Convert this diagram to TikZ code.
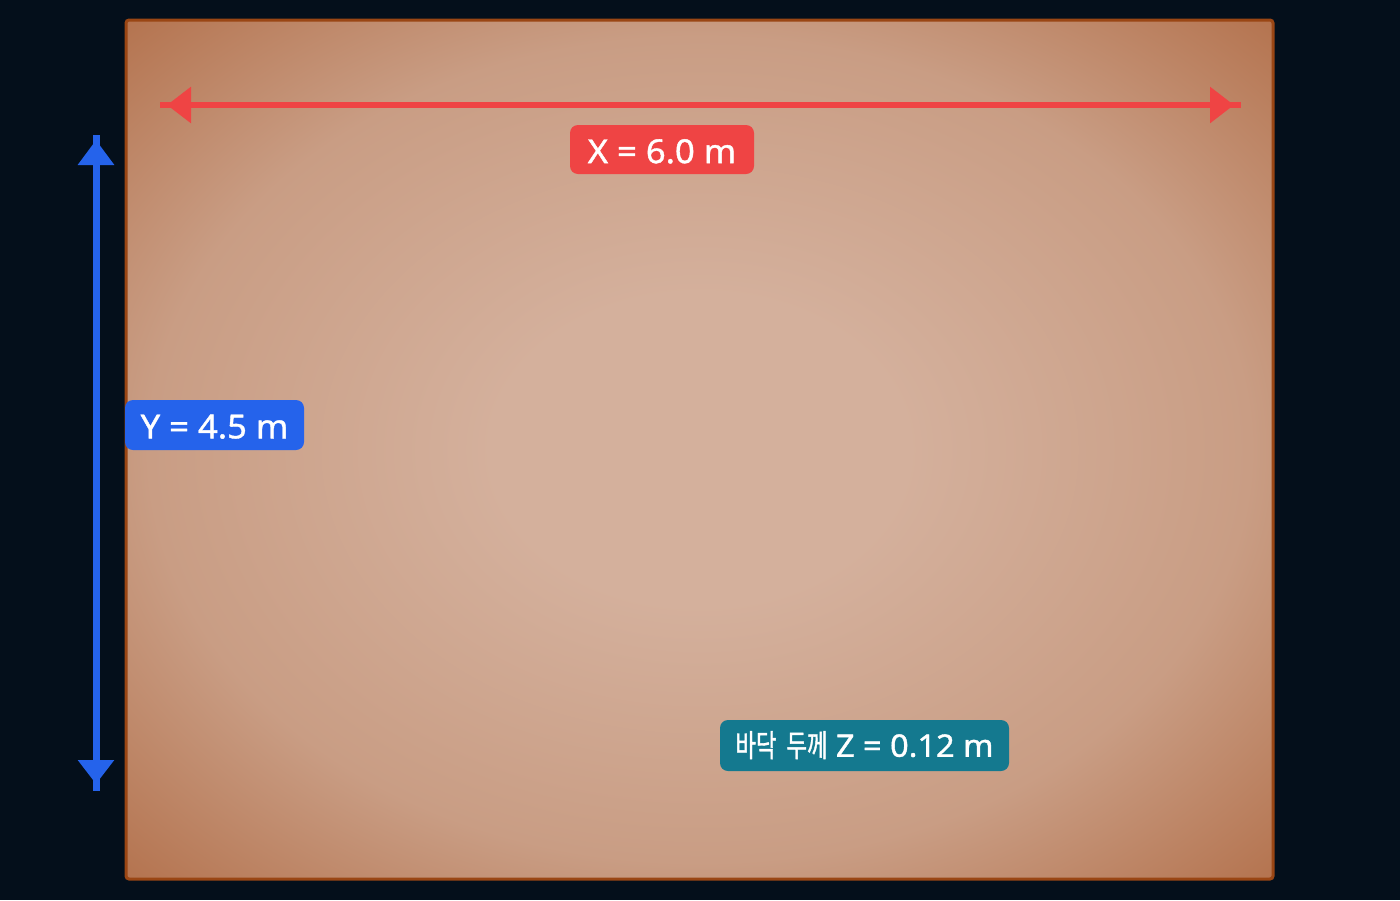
\documentclass[tikz,border=0pt]{standalone}
\usepackage{fontspec}
\setmainfont{Noto Sans}[FakeBold=1.2, FakeStretch=1.05]
\newfontfamily\krfont{Noto Sans CJK KR}[FakeStretch=0.72, FakeBold=1.3]
\usetikzlibrary{arrows.meta}
\definecolor{bgdark}{HTML}{040F1B}
\definecolor{floorin}{HTML}{D4B09C}
\definecolor{floormid}{HTML}{C99D84}
\definecolor{floorout}{HTML}{B3714C}
\definecolor{floorline}{HTML}{9A4614}
\definecolor{xred}{HTML}{EF4444}
\definecolor{yblue}{HTML}{2563EB}
\definecolor{zteal}{HTML}{14798F}
\pgfdeclareradialshading{floorshade}{\pgfpoint{0bp}{0bp}}{color(0bp)=(floorin); color(9bp)=(floorin); color(24bp)=(floormid); color(36bp)=(floorout); color(50bp)=(floorout)}
\tikzset{
  floorbox/.style={draw=floorline, line width=3pt, rounded corners=3pt, shading=floorshade, inner sep=0pt},
  dimlabel/.style={rounded corners=8pt, text=white, inner sep=0pt, align=center, text depth=0pt},
  xline/.style={draw=xred, line width=6pt},
  yline/.style={draw=yblue, line width=7pt},
}
\begin{document}
\begin{tikzpicture}[x=1pt,y=-1pt]
\fill[bgdark] (0,0) rectangle (1400,900);
\useasboundingbox (0,0) rectangle (1400,900);
% floor
\node[floorbox, minimum width=1147pt, minimum height=859pt] (floor) at (699.5,449.5) {};
% X dimension
\coordinate (xl) at (160,105);
\coordinate (xr) at (1241,105);
\draw[xline] (xl) -- (xr);
\draw[xline, {Triangle[length=24pt,width=35pt]}-{Triangle[length=24pt,width=35pt]}, shorten <=7pt, shorten >=7pt] (xl) -- (xr);
% Y dimension
\coordinate (yt) at (96,135);
\coordinate (yb) at (96,791);
\draw[yline] (yt) -- (yb);
\draw[yline, {Triangle[length=25pt,width=35pt]}-{Triangle[length=24pt,width=35pt]}, shorten <=5pt, shorten >=7pt] (yt) -- (yb);
% labels
\node[dimlabel, fill=xred, minimum width=184pt, minimum height=49pt, text height=27.2pt, font=\fontsize{33}{38}\selectfont] (xlab) at (662,149.5) {X = 6.0 m};
\node[dimlabel, fill=yblue, minimum width=179pt, minimum height=50pt, text height=26.6pt, font=\fontsize{33}{38}\selectfont] (ylab) at (214.5,425) {Y = 4.5 m};
\node[dimlabel, fill=zteal, minimum width=289pt, minimum height=51pt, text height=22.5pt, font=\fontsize{31}{36}\selectfont] (zlab) at (864.5,745.5) {{\krfont\fontsize{31}{36}\selectfont 바닥}\hspace{10pt}{\krfont\fontsize{31}{36}\selectfont 두께} Z = 0.12 m};
\end{tikzpicture}
\end{document}
